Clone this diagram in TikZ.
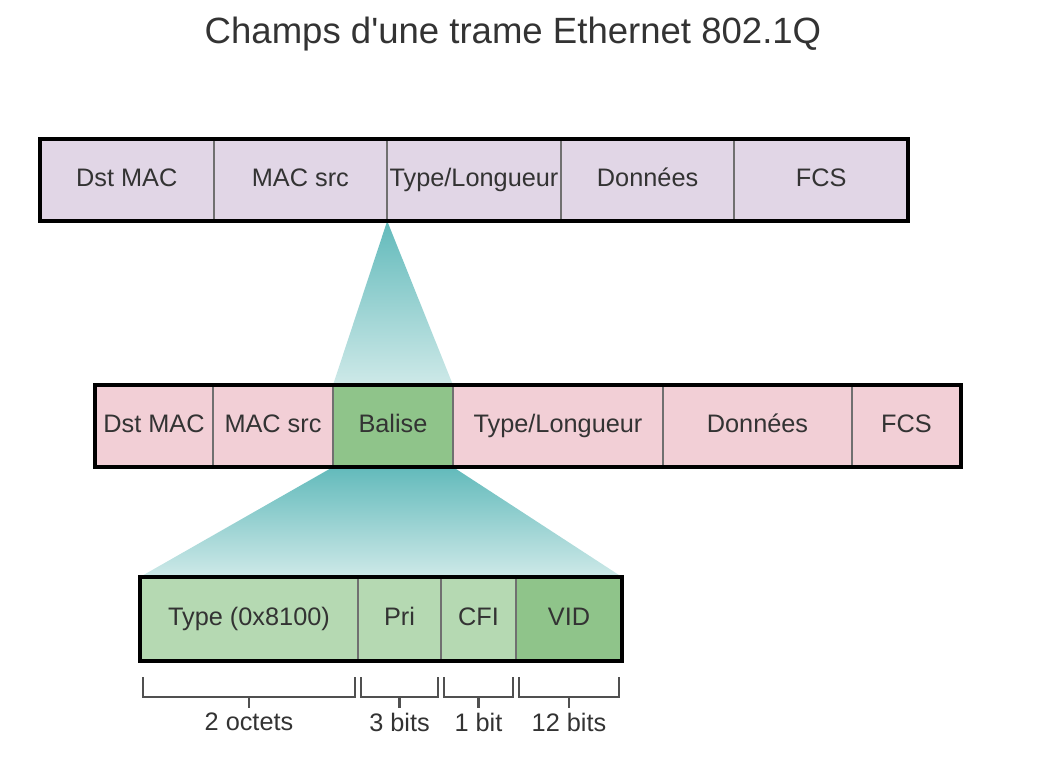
\documentclass[tikz,border=0pt]{standalone}
\usepackage{fontspec}
\setmainfont{Liberation Sans}
\usetikzlibrary{positioning,calc,backgrounds}
\definecolor{TopLilac}  {RGB}{225,214,230}
\definecolor{MidPink}   {RGB}{242,207,214}
\definecolor{TagGreen}  {RGB}{143,196,138}
\definecolor{LightGreen}{RGB}{181,217,178}
\definecolor{TealDark}  {RGB}{ 98,186,187}
\definecolor{TealLight} {RGB}{206,233,232}
\definecolor{DivGray}   {RGB}{112,112,112}
\definecolor{TextGray}  {RGB}{ 51, 51, 51}
\definecolor{BrkGray}   {RGB}{ 80, 80, 80}
\tikzset{
  %% champs de trame
  fld/.style={rectangle,draw=DivGray,line width=1.5pt,inner sep=0pt,outer sep=0pt,
              minimum height=2.05cm,text=TextGray,text height=13pt,text depth=4pt,
              font=\fontsize{18}{21}\selectfont},
  tfld/.style={fld,fill=TopLilac,minimum width=4.34cm},
  mfld/.style={fld,fill=MidPink},
  gfld/.style={fld,fill=TagGreen},
  lfld/.style={fld,fill=LightGreen,minimum height=2.1cm},
  %% cadre, accolades, zoom
  frame/.style={draw=black,line width=2.2pt},
  brk/.style={draw=BrkGray,line width=1.5pt},
  brklbl/.style={text=TextGray,inner sep=3pt,font=\fontsize{18}{21}\selectfont},
  zoomfill/.style={top color=TealDark,bottom color=TealLight,draw=none},
}

\begin{document}
\begin{tikzpicture}
    \useasboundingbox (0,0) rectangle (25.975,-19.025);

    %% titre
    \node[text=TextGray,font=\fontsize{26}{30}\selectfont] (titre) at (12.825,-0.85)
      {Champs d\textquotesingle une trame Ethernet 802.1Q};

    %% trame Ethernet (haut)
    \node[tfld,anchor=north west] (TDst) at (1.0,-3.475) {Dst MAC};
    \node[tfld,right=0pt of TDst] (TSrc) {MAC src};
    \node[tfld,right=0pt of TSrc] (TTyp) {Type/Longueur};
    \node[tfld,right=0pt of TTyp] (TDat) {Données};
    \node[tfld,right=0pt of TDat] (TFcs) {FCS};
    \draw[frame] (TDst.north west) rectangle (TFcs.south east);

    %% trame 802.1Q (milieu)
    \node[mfld,minimum width=2.95cm,anchor=north west] (MDst) at (2.375,-9.625) {Dst MAC};
    \node[mfld,minimum width=3.0cm,right=0pt of MDst]  (MSrc) {MAC src};
    \node[gfld,minimum width=3.0cm,right=0pt of MSrc]  (MTag) {Balise};
    \node[mfld,minimum width=5.25cm,right=0pt of MTag] (MTyp) {Type/Longueur};
    \node[mfld,minimum width=4.725cm,right=0pt of MTyp](MDat) {Données};
    \node[mfld,minimum width=2.725cm,right=0pt of MDat](MFcs) {FCS};
    \draw[frame] (MDst.north west) rectangle (MFcs.south east);

    %% balise (bas)
    \node[lfld,minimum width=5.45cm,anchor=north west] (BTyp) at (3.5,-14.425) {Type (0x8100)};
    \node[lfld,minimum width=2.075cm,right=0pt of BTyp] (BPri) {Pri};
    \node[lfld,minimum width=1.875cm,right=0pt of BPri] (BCfi) {CFI};
    \node[gfld,minimum height=2.1cm,minimum width=2.65cm,right=0pt of BCfi] (BVid) {VID};
    \draw[frame] (BTyp.north west) rectangle (BVid.south east);

    %% zooms en dégradé
    \begin{scope}[on background layer]
      \shade[zoomfill] (TSrc.south east) -- (MTag.north east) -- (MTag.north west) -- cycle;
      \shade[zoomfill] (MTag.south west) -- (MTag.south east)
        -- (BVid.north east) -- (BTyp.north west) -- cycle;
    \end{scope}

    %% tailles
    \foreach \f/\t in {BTyp/2 octets,BPri/3 bits,BCfi/1 bit,BVid/12 bits}{
      \draw[brk] ($(\f.south west)+(0.07,-0.4)$) -- ++(0,-0.5)
        -| ($(\f.south east)+(-0.07,-0.4)$);
      \draw[brk] ($(\f.south)+(0,-0.9)$) -- ++(0,-0.27)
        node[brklbl,below] (L\f) {\t};
    }
  \end{tikzpicture}
\end{document}
